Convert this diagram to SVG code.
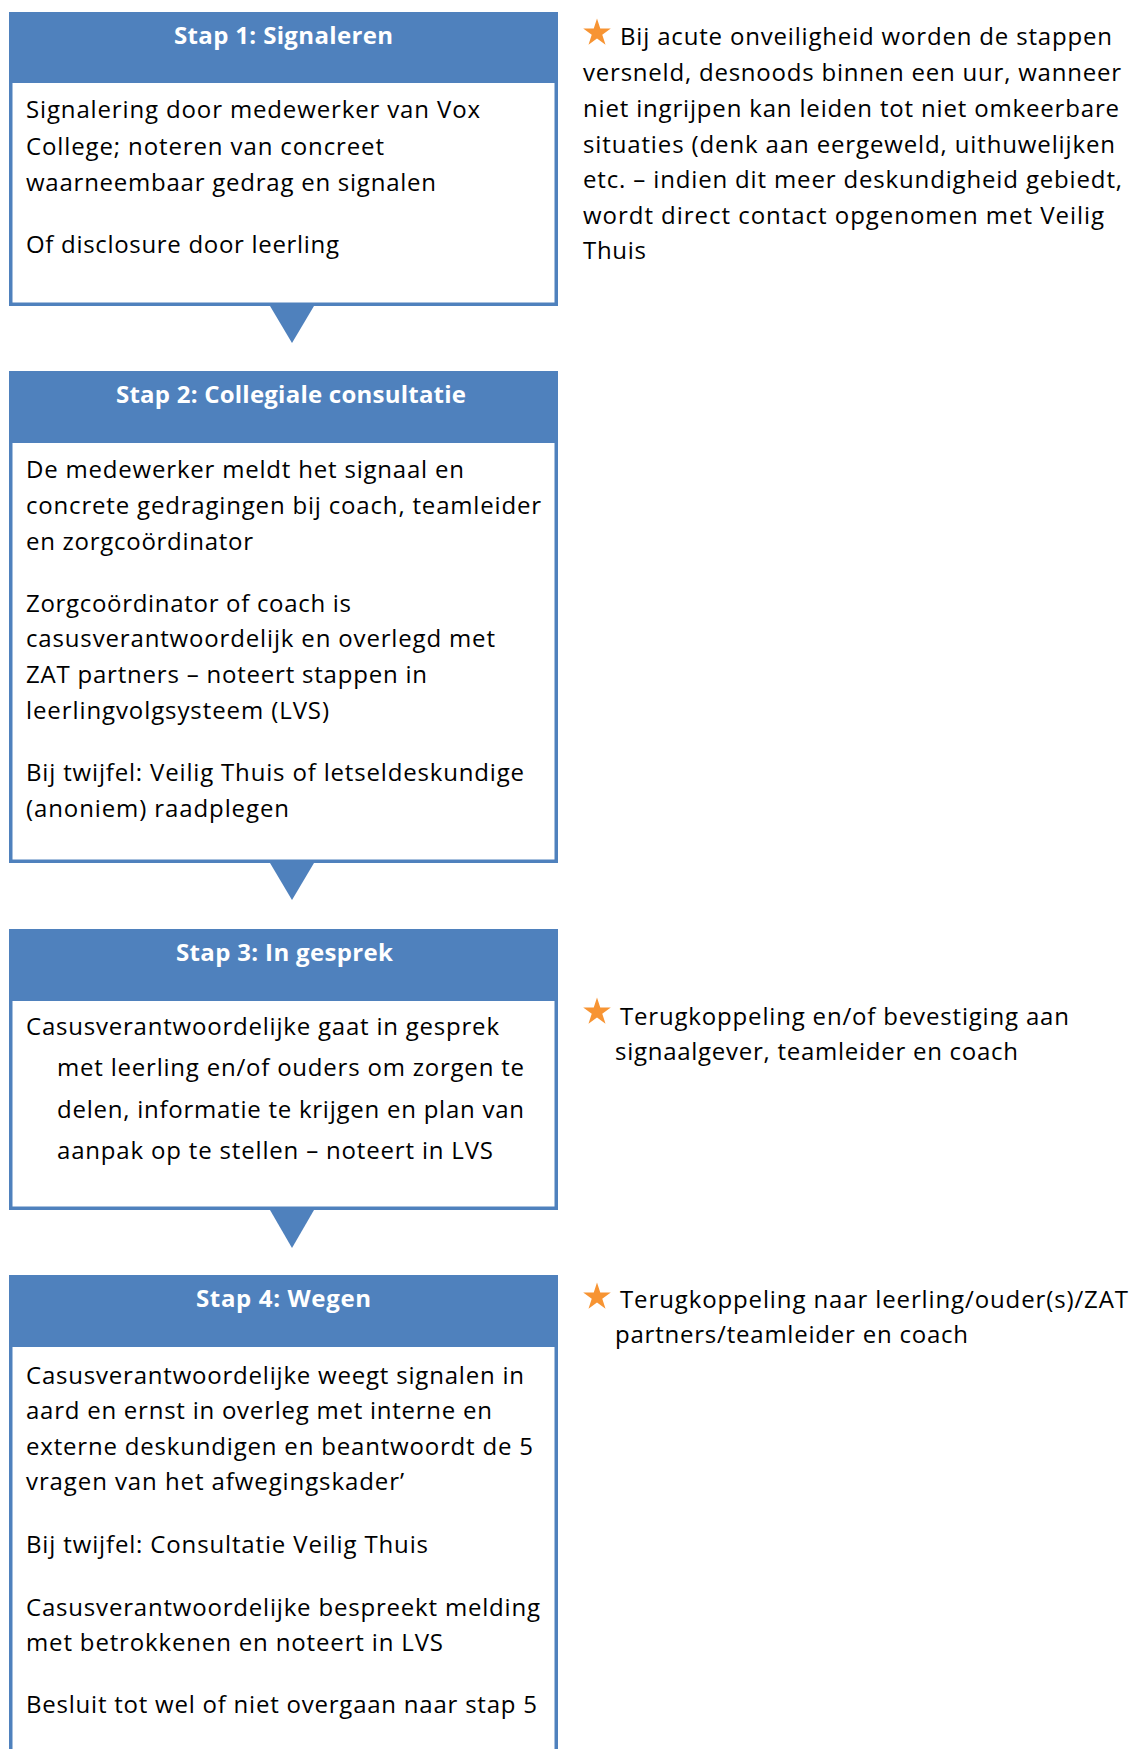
<svg xmlns="http://www.w3.org/2000/svg" width="1131" height="1749" viewBox="0 0 1131 1749">
<style>
.box{fill:#ffffff;stroke:#4F81BD;stroke-width:3.5}
.hdr{fill:#4F81BD}
.arrow{fill:#4F81BD}
.t{font-family:"Open Sans","Liberation Sans",sans-serif;font-size:24px;fill:#000000}
.ti{font-family:"Open Sans","Liberation Sans",sans-serif;font-size:24px;font-weight:bold;fill:#ffffff}
.star{fill:#F79433}
</style>
<defs>
<path id="star" d="M0,-14.5 L3.25,-4.48 L13.79,-4.48 L5.27,1.71 L8.52,11.73 L0,5.54 L-8.52,11.73 L-5.27,1.71 L-13.79,-4.48 L-3.25,-4.48 Z"/>
</defs>
<rect width="1131" height="1749" fill="#ffffff"/>

<g id="connectors">
<polygon class="arrow" points="270,306 314,306 292,343"/>
<polygon class="arrow" points="270,863 314,863 292,900"/>
<polygon class="arrow" points="270,1210 314,1210 292,1248"/>
</g>

<g id="step1">
<rect class="box" x="10.75" y="13.75" width="545.5" height="290.5"/>
<rect class="hdr" x="9" y="12" width="549" height="71"/>
<text class="ti" x="174" y="44" textLength="219">Stap 1: Signaleren</text>
<text class="t" x="26" y="118" textLength="454">Signalering door medewerker van Vox</text>
<text class="t" x="26" y="155" textLength="358">College; noteren van concreet</text>
<text class="t" x="26" y="191" textLength="410">waarneembaar gedrag en signalen</text>
<text class="t" x="26" y="253" textLength="313">Of disclosure door leerling</text>
</g>

<g id="step2">
<rect class="box" x="10.75" y="372.75" width="545.5" height="488.5"/>
<rect class="hdr" x="9" y="371" width="549" height="72"/>
<text class="ti" x="116" y="403" textLength="350">Stap 2: Collegiale consultatie</text>
<text class="t" x="26" y="478" textLength="438">De medewerker meldt het signaal en</text>
<text class="t" x="26" y="514" textLength="515">concrete gedragingen bij coach, teamleider</text>
<text class="t" x="26" y="550" textLength="227">en zorgcoördinator</text>
<text class="t" x="26" y="612" textLength="325">Zorgcoördinator of coach is</text>
<text class="t" x="26" y="647" textLength="469">casusverantwoordelijk en overlegd met</text>
<text class="t" x="26" y="683" textLength="401">ZAT partners – noteert stappen in</text>
<text class="t" x="26" y="719" textLength="303">leerlingvolgsysteem (LVS)</text>
<text class="t" x="26" y="781" textLength="498">Bij twijfel: Veilig Thuis of letseldeskundige</text>
<text class="t" x="26" y="817" textLength="263">(anoniem) raadplegen</text>
</g>

<g id="step3">
<rect class="box" x="10.75" y="930.75" width="545.5" height="277.5"/>
<rect class="hdr" x="9" y="929" width="549" height="72"/>
<text class="ti" x="176" y="961" textLength="217">Stap 3: In gesprek</text>
<text class="t" x="26" y="1035" textLength="473">Casusverantwoordelijke gaat in gesprek</text>
<text class="t" x="57" y="1076" textLength="467">met leerling en/of ouders om zorgen te</text>
<text class="t" x="57" y="1118" textLength="467">delen, informatie te krijgen en plan van</text>
<text class="t" x="57" y="1159" textLength="436">aanpak op te stellen – noteert in LVS</text>
</g>

<g id="step4">
<rect class="box" x="10.75" y="1276.75" width="545.5" height="490"/>
<rect class="hdr" x="9" y="1275" width="549" height="72"/>
<text class="ti" x="196" y="1307" textLength="175">Stap 4: Wegen</text>
<text class="t" x="26" y="1384" textLength="498">Casusverantwoordelijke weegt signalen in</text>
<text class="t" x="26" y="1419" textLength="466">aard en ernst in overleg met interne en</text>
<text class="t" x="26" y="1455" textLength="507">externe deskundigen en beantwoordt de 5</text>
<text class="t" x="26" y="1490" textLength="378">vragen van het afwegingskader’</text>
<text class="t" x="26" y="1553" textLength="402">Bij twijfel: Consultatie Veilig Thuis</text>
<text class="t" x="26" y="1616" textLength="514">Casusverantwoordelijke bespreekt melding</text>
<text class="t" x="26" y="1651" textLength="417">met betrokkenen en noteert in LVS</text>
<text class="t" x="26" y="1713" textLength="511">Besluit tot wel of niet overgaan naar stap 5</text>
</g>

<g id="note1">
<use href="#star" class="star" x="597" y="33"/>
<text class="t" x="620" y="45" textLength="492">Bij acute onveiligheid worden de stappen</text>
<text class="t" x="583" y="81" textLength="538">versneld, desnoods binnen een uur, wanneer</text>
<text class="t" x="583" y="117" textLength="536">niet ingrijpen kan leiden tot niet omkeerbare</text>
<text class="t" x="583" y="153" textLength="532">situaties (denk aan eergeweld, uithuwelijken</text>
<text class="t" x="583" y="188" textLength="539">etc. – indien dit meer deskundigheid gebiedt,</text>
<text class="t" x="583" y="224" textLength="521">wordt direct contact opgenomen met Veilig</text>
<text class="t" x="583" y="259" textLength="63">Thuis</text>
</g>

<g id="note2">
<use href="#star" class="star" x="597" y="1012"/>
<text class="t" x="620" y="1025" textLength="449">Terugkoppeling en/of bevestiging aan</text>
<text class="t" x="615" y="1060" textLength="403">signaalgever, teamleider en coach</text>
</g>

<g id="note3">
<use href="#star" class="star" x="597" y="1297"/>
<text class="t" x="620" y="1308" textLength="508">Terugkoppeling naar leerling/ouder(s)/ZAT</text>
<text class="t" x="615" y="1343" textLength="353">partners/teamleider en coach</text>
</g>
</svg>
